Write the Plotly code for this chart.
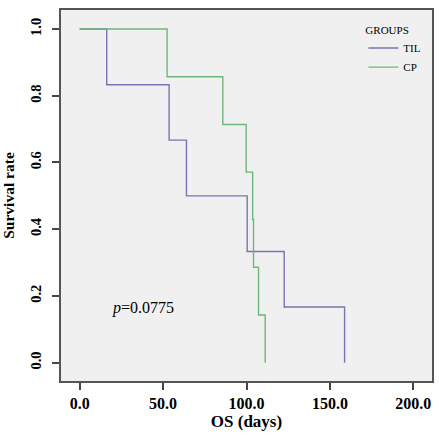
import plotly.graph_objects as go

til_days = [0, 16.2, 53.6, 64.0, 100.4, 122.6, 158.8]
til_surv = [1.0, 0.833, 0.667, 0.5, 0.333, 0.167, 0.0]
cp_days = [0, 52.4, 85.8, 99.8, 103.7, 104.2, 107.2, 111.2]
cp_surv = [1.0, 0.857, 0.714, 0.571, 0.429, 0.286, 0.143, 0.0]
x_ticks = [0, 50, 100, 150, 200]
x_ticklabels = ["0.0", "50.0", "100.0", "150.0", "200.0"]
y_ticks = [0, 0.2, 0.4, 0.6, 0.8, 1.0]
y_ticklabels = ["0.0", "0.2", "0.4", "0.6", "0.8", "1.0"]

serif = "Liberation Serif, Times New Roman, serif"

fig = go.Figure()
fig.add_trace(go.Scatter(x=til_days, y=til_surv, mode="lines", name="TIL",
                         line=dict(color="#7676b2", width=1.4, shape="hv")))
fig.add_trace(go.Scatter(x=cp_days, y=cp_surv, mode="lines", name="CP",
                         line=dict(color="#6cb77c", width=1.4, shape="hv")))

fig.update_layout(
    width=439, height=440,
    margin=dict(l=61, r=7, t=10, b=59),
    paper_bgcolor="white", plot_bgcolor="#f0f0f0",
    font=dict(family=serif, color="black"),
    showlegend=True,
    legend=dict(title=dict(text="GROUPS", font=dict(size=11, family=serif)),
                font=dict(size=11, family=serif),
                x=0.815, y=0.975, xanchor="left", yanchor="top",
                bgcolor="rgba(0,0,0,0)", itemwidth=30, tracegroupgap=0),
    annotations=[dict(x=0.221, y=0.197, xref="paper", yref="paper",
                      xanchor="center", yanchor="middle",
                      text="<i>p</i>=0.0775", showarrow=False,
                      font=dict(size=16, family=serif, color="black"))],
)
fig.update_xaxes(range=[-11.2, 211.2], tickvals=x_ticks, ticktext=x_ticklabels,
                 ticks="outside", ticklen=7, tickcolor="#444", tickwidth=1.5,
                 showgrid=False, zeroline=False, showline=True, linecolor="#555",
                 linewidth=1.5, mirror=True, automargin=False,
                 tickfont=dict(size=16, family=serif, color="black", weight="bold"),
                 title=dict(text="<b>OS (days)</b>", font=dict(size=17, family=serif), standoff=4))
fig.update_yaxes(range=[-0.055, 1.057], tickvals=y_ticks, ticktext=y_ticklabels,
                 ticks="outside", ticklen=7, tickcolor="#444", tickwidth=1.5,
                 showgrid=False, zeroline=False, showline=True, linecolor="#555",
                 linewidth=1.5, mirror=True, tickangle=-90, automargin=False,
                 ticklabelstandoff=5,
                 tickfont=dict(size=14.5, family=serif, color="black", weight="bold"),
                 title=dict(text="<b>Survival rate</b>", font=dict(size=15.5, family=serif), standoff=10))

fig.write_html("out.html", config={"displayModeBar": False},
               post_script="document.body.style.margin='0';document.body.style.overflow='hidden';")
